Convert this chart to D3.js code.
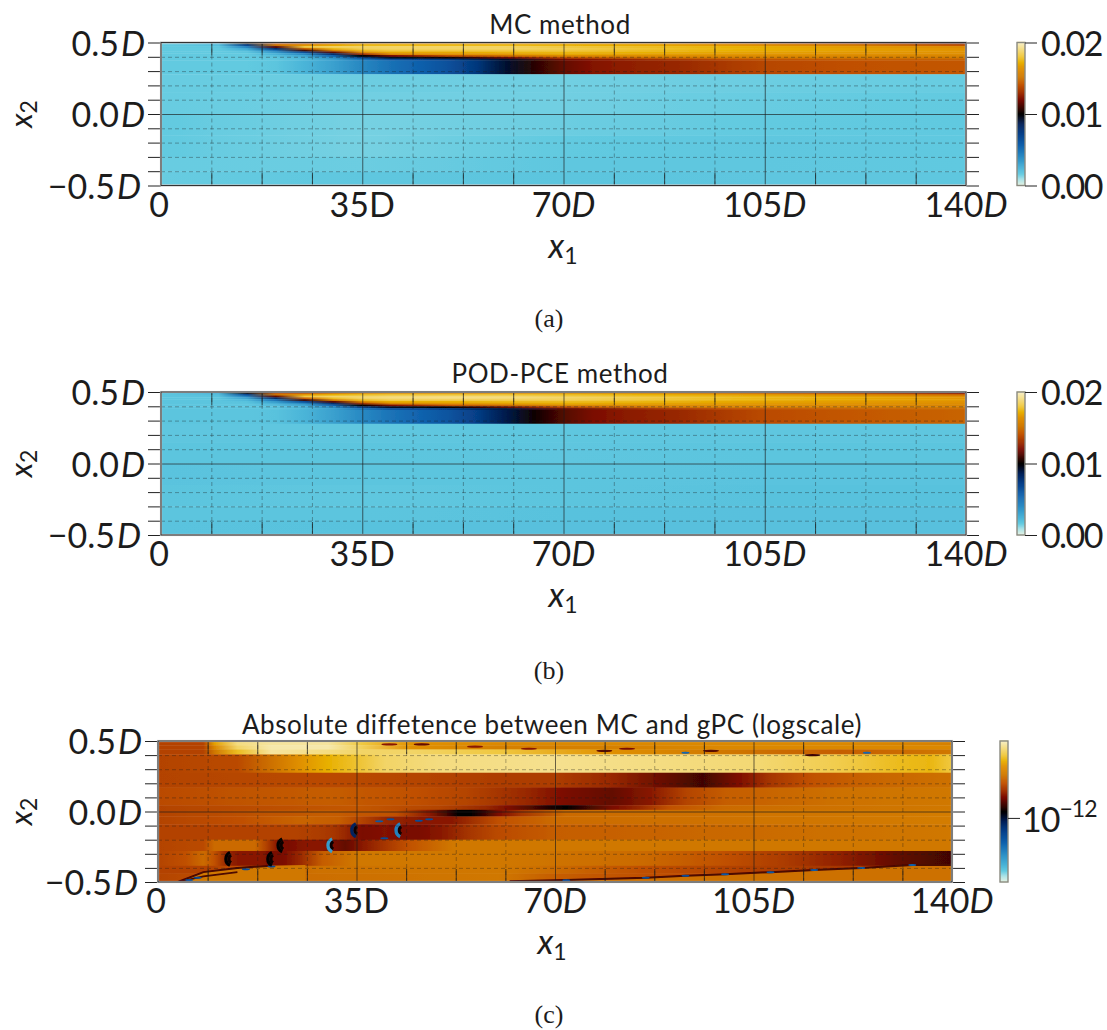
<!DOCTYPE html>
<html>
<head>
<meta charset="utf-8">
<script src="https://cdnjs.cloudflare.com/ajax/libs/d3/7.8.5/d3.min.js"></script>
<style>
  html, body { margin: 0; background: #fff; }
  svg { display: block; }
  text { font-family: Lato, "Noto Sans", sans-serif; fill: #1c1c1c; }
  text.cap { font-family: "Liberation Serif", serif; font-size: 26px; }
</style>
</head>
<body>
<svg id="chart" width="1107" height="1030"></svg>
<script>
/** --- DATA --- */

const xMajor = [0, 35, 70, 105, 140];
const xMinor = [8.75, 17.5, 26.25, 43.75, 52.5, 61.25, 78.75, 87.5, 96.25, 113.75, 122.5, 131.25];
const yMajor = [-0.5, 0, 0.5];
const yMinor = [-0.4, -0.3, -0.2, -0.1, 0.1, 0.2, 0.3, 0.4];
const titles = ['MC method', 'POD-PCE method', 'Absolute diffetence between MC and gPC (logscale)'];
const captions = ['(a)', '(b)', '(c)'];

// colormap, position along the colourbar -> colour
const cmapPos = [0, 0.04, 0.08, 0.12, 0.2, 0.28, 0.36, 0.43, 0.49, 0.5, 0.53, 0.6, 0.65, 0.7, 0.76, 0.82, 0.86, 0.9, 0.95, 1];
const cmapCol = ['#e6f2e2', '#b0e4e8', '#62cae0', '#4ab4d8', '#2a8cc4', '#0f60ac', '#06408a', '#001f58', '#000008', '#000000', '#2a0500', '#7a0a00', '#a03000', '#c05000', '#d07800', '#e09000', '#e8b000', '#f0c840', '#f4dc80', '#f8f0c8'];

// panels a + b: variance in units of 1e-3, top shear layer
const shearEdges = [0.5, 0.4875, 0.475, 0.4625, 0.45, 0.4375, 0.425, 0.4125, 0.4, 0.3875, 0.375];
const shearX = [0, 10, 15, 20, 25, 30, 35, 40, 50, 60, 70, 85, 100, 120, 140];
const shearMC = [
  [1.6, 2.5, 10.0, 14.0, 13.5, 14.5, 15.5, 16.0, 16.0, 16.0, 16.0, 15.5, 14.5, 13.0, 11.5],
  [1.6, 2.0, 7.0, 15.0, 16.5, 17.0, 17.5, 17.5, 17.5, 17.5, 17.3, 17.0, 16.5, 15.5, 14.0],
  [1.6, 1.7, 4.5, 11.5, 18.0, 18.5, 18.5, 18.6, 18.6, 18.5, 18.0, 17.6, 17.2, 16.6, 16.0],
  [1.6, 1.6, 3.0, 8.0, 14.5, 17.5, 18.4, 18.6, 18.6, 18.6, 18.3, 17.8, 17.3, 16.8, 16.4],
  [1.6, 1.6, 2.2, 5.0, 11.0, 15.5, 17.5, 18.0, 18.0, 18.0, 18.0, 17.6, 17.2, 16.8, 16.5],
  [1.6, 1.6, 1.8, 3.5, 6.5, 11.5, 16.0, 17.0, 17.0, 17.3, 17.4, 17.2, 16.9, 16.6, 16.4],
  [1.6, 1.6, 1.6, 2.5, 4.2, 8.0, 13.0, 15.8, 16.4, 16.6, 17.0, 16.8, 16.6, 16.4, 16.2],
  [1.6, 1.6, 1.6, 2.0, 3.0, 5.5, 10.0, 12.0, 14.0, 15.0, 16.0, 16.2, 16.2, 16.0, 15.8],
  [1.6, 1.6, 1.6, 1.8, 2.5, 4.0, 7.0, 9.3, 10.2, 12.0, 14.0, 15.0, 15.5, 15.4, 15.3],
  [1.6, 1.6, 1.6, 1.7, 2.2, 3.2, 5.0, 6.6, 7.6, 9.3, 12.0, 13.0, 14.0, 14.4, 14.6]
];
const shearPOD = [
  [1.8, 2.6, 10.0, 14.0, 13.8, 14.8, 15.6, 16.1, 16.2, 16.2, 16.1, 15.6, 14.8, 13.4, 12.0],
  [1.8, 2.1, 7.0, 15.0, 16.6, 17.2, 17.6, 17.8, 17.8, 17.8, 17.6, 17.2, 16.7, 15.8, 14.5],
  [1.8, 1.9, 4.5, 11.5, 18.0, 18.6, 18.6, 18.8, 18.9, 18.8, 18.3, 17.8, 17.4, 16.8, 16.2],
  [1.8, 1.8, 3.1, 8.0, 14.5, 17.6, 18.5, 18.8, 18.9, 18.8, 18.5, 18.0, 17.5, 17.0, 16.5],
  [1.8, 1.8, 2.3, 5.0, 11.0, 15.6, 17.6, 18.2, 18.2, 18.2, 18.2, 17.8, 17.4, 16.9, 16.6],
  [1.8, 1.8, 1.9, 3.5, 6.5, 11.5, 16.0, 17.1, 17.2, 17.5, 17.6, 17.4, 17.0, 16.7, 16.4],
  [1.8, 1.8, 1.8, 2.6, 4.2, 8.0, 13.0, 15.8, 16.5, 16.8, 17.1, 16.9, 16.7, 16.5, 16.2],
  [1.8, 1.8, 1.8, 2.1, 3.0, 5.5, 10.0, 12.0, 14.0, 14.8, 15.9, 16.2, 16.2, 16.0, 15.8],
  [1.8, 1.8, 1.8, 1.9, 2.5, 4.0, 6.9, 9.2, 10.1, 11.6, 13.6, 14.9, 15.4, 15.4, 15.3],
  [1.8, 1.8, 1.8, 1.8, 2.3, 3.2, 4.9, 6.4, 7.4, 9.0, 11.6, 13.0, 14.0, 14.5, 14.8]
];

// panels a + b: band just below the shear layer
const bandEdges = [0.375, 0.278];
const bandX = [0, 15, 20, 25, 30, 35, 40, 45, 50, 55, 60, 65, 70, 75, 80, 90, 100, 105, 120, 130, 140];
const bandMC = [1.6, 1.6, 1.8, 2.4, 3.2, 4.2, 5.0, 5.6, 6.4, 7.6, 9.2, 10.6, 11.6, 12.2, 12.5, 12.8, 13.4, 13.7, 14.0, 14.1, 14.2];
const bandPOD = [1.8, 1.8, 1.9, 2.4, 3.2, 4.1, 4.9, 5.5, 6.2, 7.3, 8.8, 10.2, 11.3, 12.0, 12.4, 12.8, 13.5, 13.8, 14.2, 14.4, 14.6];

// panels a + b: the nearly flat lower part
const coreEdges = [0.278, 0.15, 0, -0.15, -0.3, -0.4, -0.5];
const coreX = [0, 35, 70, 105, 140];
const coreMC = [
  [1.55, 1.5, 1.45, 1.5, 1.55],
  [1.55, 1.45, 1.45, 1.55, 1.6],
  [1.6, 1.4, 1.5, 1.6, 1.65],
  [1.6, 1.4, 1.6, 1.7, 1.65],
  [1.55, 1.5, 1.7, 1.7, 1.65],
  [1.55, 1.7, 1.8, 1.75, 1.7]
];
const corePOD = [
  [1.75, 1.75, 1.7, 1.75, 1.75],
  [1.8, 1.8, 1.75, 1.8, 1.8],
  [1.85, 1.8, 1.8, 1.85, 1.85],
  [1.8, 1.7, 1.8, 1.9, 1.9],
  [1.8, 1.8, 1.9, 1.95, 1.95],
  [1.85, 1.9, 1.95, 1.95, 1.95]
];

// panel c: log difference, read as position along its colourbar
const diffEdges = [0.5, 0.47, 0.44, 0.405, 0.275, 0.17, 0.045, 0.012, -0.035, -0.09, -0.2, -0.28, -0.385, -0.44, -0.5];
const diffX = [
  [0, 8, 10, 14, 20, 30, 36, 45, 60, 80, 100, 120, 140],
  [0, 8, 10, 14, 20, 30, 36, 45, 60, 80, 100, 120, 140],
  [0, 8, 10, 14, 20, 30, 36, 45, 60, 80, 100, 120, 140],
  [0, 14, 20, 25, 30, 35, 40, 50, 70, 90, 105, 120, 130, 136, 140],
  [0, 30, 50, 60, 70, 80, 90, 96, 102, 108, 115, 125, 140],
  [0, 30, 45, 55, 65, 72, 80, 87, 93, 100, 120, 140],
  [0, 35, 50, 58, 62, 66, 69, 72, 75, 80, 85, 90, 100, 140],
  [0, 30, 42, 48, 51, 53, 55, 57, 60, 64, 72, 140],
  [0, 15, 25, 32, 36, 40, 46, 52, 60, 70, 140],
  [0, 15, 24, 28, 31, 33, 36, 40, 43, 46, 50, 55, 60, 70, 140],
  [0, 8, 10, 17, 19, 21, 23, 26, 29, 31, 33, 36, 40, 44, 52, 140],
  [0, 5, 8, 10, 12, 14, 18, 20, 22, 25, 29, 35, 60, 85, 100, 110, 120, 130, 140],
  [0, 10, 15, 20, 28, 60, 70, 85, 100, 120, 140],
  [0, 10, 20, 60, 70, 85, 100, 140]
];
const diffV = [
  [0.68, 0.68, 0.84, 0.95, 0.97, 0.97, 0.9, 0.82, 0.8, 0.8, 0.8, 0.8, 0.78],
  [0.68, 0.68, 0.8, 0.93, 0.98, 0.98, 0.92, 0.82, 0.78, 0.78, 0.8, 0.8, 0.8],
  [0.68, 0.68, 0.76, 0.88, 0.97, 0.95, 0.93, 0.93, 0.9, 0.82, 0.76, 0.72, 0.76],
  [0.68, 0.69, 0.75, 0.82, 0.86, 0.89, 0.93, 0.95, 0.96, 0.95, 0.94, 0.91, 0.88, 0.87, 0.9],
  [0.68, 0.69, 0.68, 0.67, 0.67, 0.64, 0.58, 0.55, 0.6, 0.66, 0.7, 0.73, 0.75],
  [0.69, 0.72, 0.7, 0.68, 0.64, 0.6, 0.58, 0.62, 0.68, 0.72, 0.75, 0.76],
  [0.68, 0.71, 0.68, 0.64, 0.6, 0.56, 0.52, 0.5, 0.54, 0.6, 0.64, 0.7, 0.74, 0.76],
  [0.68, 0.72, 0.7, 0.62, 0.55, 0.5, 0.5, 0.53, 0.6, 0.66, 0.74, 0.77],
  [0.68, 0.7, 0.73, 0.72, 0.68, 0.64, 0.62, 0.62, 0.7, 0.74, 0.77],
  [0.68, 0.68, 0.68, 0.67, 0.66, 0.64, 0.6, 0.61, 0.6, 0.6, 0.62, 0.66, 0.69, 0.72, 0.76],
  [0.68, 0.69, 0.74, 0.74, 0.68, 0.62, 0.6, 0.62, 0.62, 0.6, 0.58, 0.62, 0.66, 0.7, 0.76, 0.76],
  [0.68, 0.7, 0.74, 0.7, 0.64, 0.62, 0.62, 0.6, 0.6, 0.64, 0.72, 0.76, 0.76, 0.74, 0.7, 0.67, 0.63, 0.58, 0.55],
  [0.68, 0.68, 0.7, 0.72, 0.75, 0.76, 0.74, 0.7, 0.68, 0.66, 0.7],
  [0.68, 0.7, 0.74, 0.76, 0.72, 0.7, 0.7, 0.72]
];

// panel c: crescent shaped zeros of the difference
const crescentX = [12.7, 20.1, 21.9, 30.7, 34.9, 42.7];
const crescentY = [-0.336, -0.336, -0.24, -0.24, -0.133, -0.133];
const crescentV = [0.5, 0.5, 0.5, 0.17, 0.42, 0.22];

// panel c: short dark streaks
const streakX = [40.8, 46.5, 55.9, 65.4, 78.7, 82.7, 97.5, 115.4];
const streakY = [0.476, 0.476, 0.46, 0.445, 0.43, 0.445, 0.43, 0.4];
const streakV = [0.62, 0.58, 0.62, 0.62, 0.57, 0.6, 0.57, 0.55];

// panel c: small blue flecks
const fleckX = [93, 125, 39, 41, 46, 47.8, 39.9, 5.5, 7, 15.5, 20, 72, 86, 93, 100, 108, 115.7, 124, 133];
const fleckY = [0.417, 0.417, -0.07, -0.055, -0.065, -0.055, -0.19, -0.485, -0.47, -0.41, -0.39, -0.487, -0.47, -0.455, -0.445, -0.43, -0.415, -0.4, -0.38];
const fleckV = [0.27, 0.27, 0.3, 0.33, 0.33, 0.33, 0.33, 0.33, 0.33, 0.33, 0.33, 0.33, 0.33, 0.33, 0.3, 0.3, 0.3, 0.28, 0.28];

// panel c: dark lines along the lower wall
const wallAX = [3.5, 8, 14, 20, 26];
const wallAY = [-0.5, -0.43, -0.4, -0.385, -0.38];
const wallBX = [3.5, 8, 14];
const wallBY = [-0.5, -0.46, -0.43];
const wallCX = [62, 72, 86, 93, 100, 108, 115.7, 124, 133, 140];
const wallCY = [-0.495, -0.485, -0.47, -0.455, -0.445, -0.43, -0.415, -0.4, -0.38, -0.38];

/** --- DIMENSIONS + MISC --- */

const panels = [
  { left: 161, right: 966, top: 42.5, bottom: 185.5, barX: 1017, barW: 8, tickLen: 13, titleX: 560, titleY: 34, capY: 327, capX: 549, labelX: 563 },
  { left: 161, right: 966, top: 392, bottom: 535, barX: 1017, barW: 8, tickLen: 13, titleX: 560, titleY: 383, capY: 679, capX: 549, labelX: 563 },
  { left: 158, right: 952, top: 741, bottom: 882, barX: 1000, barW: 8, tickLen: 13, titleX: 552, titleY: 734, capY: 1023, capX: 549, labelX: 552 }
];

const tickFont = 34;
const subFont = 23;
const svg = d3.select('#chart');
const defs = svg.append('defs');

defs.append('filter').attr('id', 'soft')
  .attr('x', '-2%').attr('y', '-5%').attr('width', '104%').attr('height', '110%')
  .append('feGaussianBlur').attr('stdDeviation', 0.55).attr('edgeMode', 'duplicate');

defs.append('filter').attr('id', 'crisp')
  .attr('x', '-20%').attr('y', '-20%').attr('width', '140%').attr('height', '140%')
  .append('feGaussianBlur').attr('stdDeviation', 0.6);

const cmap = d3.scaleLinear().domain(cmapPos).range(cmapCol).clamp(true);

/** --- HELPERS --- */

function rowsFrom(edges, xs, values, unit) {
  return values.map((v, i) => ({
    top: edges[i],
    bottom: edges[i + 1],
    xs: Array.isArray(xs[0]) ? xs[i] : xs,
    v: v.map(d => d * unit)
  }));
}

function drawField(g, rows, x, y, id) {
  const grads = defs.selectAll('linearGradient.' + id)
    .data(rows)
    .enter()
    .append('linearGradient')
    .attr('class', id)
    .attr('id', (d, i) => id + i);

  grads.selectAll('stop')
    .data(d => d.xs.map((xv, j) => ({ xv: xv, v: d.v[j] })))
    .enter()
    .append('stop')
    .attr('offset', d => (x(d.xv) - x.range()[0]) / (x.range()[1] - x.range()[0]))
    .attr('stop-color', d => cmap(d.v));

  g.selectAll('rect')
    .data(rows)
    .enter()
    .append('rect')
    .attr('x', x.range()[0])
    .attr('width', x.range()[1] - x.range()[0])
    .attr('y', d => y(d.top))
    .attr('height', d => y(d.bottom) - y(d.top) + 0.4)
    .attr('fill', (d, i) => 'url(#' + id + i + ')');
}

function xLabel(sel, v) {
  // 35D is set upright in the original, the rest with an italic D
  sel.append('tspan').text(v);
  if (v !== 0) {
    sel.append('tspan').attr('font-style', v === 35 ? 'normal' : 'italic').text('D');
  }
}

function drawAxes(g, p, x, y) {
  const h = p.bottom - p.top;
  const w = p.right - p.left;

  // dashed minor grid
  g.append('g').attr('class', 'grid')
    .attr('transform', `translate(0,${p.bottom})`)
    .call(d3.axisBottom(x).tickValues(xMinor).tickSize(-h).tickFormat(''))
    .call(s => s.select('.domain').remove())
    .selectAll('line')
    .attr('stroke', '#1a1a1a').attr('stroke-opacity', 0.35).attr('stroke-dasharray', '4,3');

  g.append('g').attr('class', 'grid')
    .attr('transform', `translate(${p.left},0)`)
    .call(d3.axisLeft(y).tickValues(yMinor).tickSize(-w).tickFormat(''))
    .call(s => s.select('.domain').remove())
    .selectAll('line')
    .attr('stroke', '#1a1a1a').attr('stroke-opacity', 0.35).attr('stroke-dasharray', '4,3');

  // solid major grid
  g.append('g')
    .attr('transform', `translate(0,${p.bottom})`)
    .call(d3.axisBottom(x).tickValues(xMajor.slice(1, -1)).tickSize(-h).tickFormat(''))
    .call(s => s.select('.domain').remove())
    .selectAll('line').attr('stroke', '#1a1a1a').attr('stroke-opacity', 0.65);

  g.append('g')
    .attr('transform', `translate(${p.left},0)`)
    .call(d3.axisLeft(y).tickValues([0]).tickSize(-w).tickFormat(''))
    .call(s => s.select('.domain').remove())
    .selectAll('line').attr('stroke', '#1a1a1a').attr('stroke-opacity', 0.65);

  // short solid marks at both edges for the minor x ticks
  g.append('g')
    .attr('transform', `translate(0,${p.bottom})`)
    .call(d3.axisBottom(x).tickValues(xMinor).tickSize(-p.tickLen).tickFormat(''))
    .call(s => s.select('.domain').remove())
    .selectAll('line').attr('stroke', '#1a1a1a').attr('stroke-opacity', 0.75);

  g.append('g')
    .attr('transform', `translate(0,${p.top})`)
    .call(d3.axisTop(x).tickValues(xMinor).tickSize(-p.tickLen).tickFormat(''))
    .call(s => s.select('.domain').remove())
    .selectAll('line').attr('stroke', '#1a1a1a').attr('stroke-opacity', 0.75);

  // outer ticks on y, both sides
  const yAll = yMajor.concat(yMinor);
  g.append('g')
    .attr('transform', `translate(${p.left},0)`)
    .call(d3.axisLeft(y).tickValues(yAll).tickSize(p.tickLen).tickFormat(''))
    .call(s => s.select('.domain').remove())
    .selectAll('line').attr('stroke', '#222');

  g.append('g')
    .attr('transform', `translate(${p.right},0)`)
    .call(d3.axisRight(y).tickValues(yAll).tickSize(p.tickLen).tickFormat(''))
    .call(s => s.select('.domain').remove())
    .selectAll('line').attr('stroke', '#222');

  // frame
  g.append('rect')
    .attr('x', p.left).attr('y', p.top).attr('width', w).attr('height', h)
    .attr('fill', 'none').attr('stroke', '#c8c8c8').attr('stroke-width', 2.2);
  g.append('rect')
    .attr('x', p.left).attr('y', p.top).attr('width', w).attr('height', h)
    .attr('fill', 'none').attr('stroke', '#333').attr('stroke-width', 1);

  // tick labels
  g.selectAll('text.ylab')
    .data(yMajor)
    .enter()
    .append('text')
    .attr('class', 'ylab')
    .attr('x', d => p.left - (d < 0 ? 20 : 16))
    .attr('y', d => y(d) + 13)
    .attr('text-anchor', 'end')
    .attr('font-size', tickFont)
    .each(function(d) {
      const s = d3.select(this);
      s.append('tspan').text(d3.format('.1f')(d).replace('-', '\u2212'));
      s.append('tspan').attr('font-style', 'italic').attr('dx', 2).text('D');
    });

  g.selectAll('text.xlab')
    .data(xMajor)
    .enter()
    .append('text')
    .attr('class', 'xlab')
    .attr('x', d => x(d) - (d === 0 ? 2 : 0))
    .attr('y', p.bottom + 31)
    .attr('text-anchor', 'middle')
    .attr('font-size', tickFont)
    .each(function(d) { xLabel(d3.select(this), d); });

  // axis titles
  const xt = g.append('text')
    .attr('x', p.labelX)
    .attr('y', p.bottom + 72)
    .attr('text-anchor', 'middle')
    .attr('font-size', tickFont);
  xt.append('tspan').attr('font-style', 'italic').text('x');
  xt.append('tspan').attr('font-size', subFont).attr('dy', 6).text('1');

  // kept a little smaller than the ticks so the glyph box stays on the page
  const yt = g.append('text')
    .attr('transform', `translate(32,${(p.top + p.bottom) / 2}) rotate(-90)`)
    .attr('text-anchor', 'middle')
    .attr('font-size', 31);
  yt.append('tspan').attr('font-style', 'italic').text('x');
  yt.append('tspan').attr('font-size', subFont).attr('dy', 5).text('2');
}

function drawBar(g, p, barScale, tickVals) {
  const steps = d3.range(0, 1.0001, 1 / 140);
  g.selectAll('rect.step')
    .data(steps)
    .enter()
    .append('rect')
    .attr('class', 'step')
    .attr('x', p.barX)
    .attr('width', p.barW)
    .attr('y', d => p.bottom - d * (p.bottom - p.top) - 1)
    .attr('height', 1.6)
    .attr('fill', d => cmap(d));

  g.append('rect')
    .attr('x', p.barX).attr('y', p.top).attr('width', p.barW).attr('height', p.bottom - p.top)
    .attr('fill', 'none').attr('stroke', '#8a8a80').attr('stroke-width', 1.4);

  g.append('g')
    .attr('transform', `translate(${p.barX + p.barW},0)`)
    .call(d3.axisRight(barScale).tickValues(tickVals).tickSize(12).tickFormat(''))
    .call(s => s.select('.domain').remove())
    .selectAll('line').attr('stroke', '#222');
}

/** --- PANELS --- */

function simplePanel(i, shear, band, core) {
  const p = panels[i];
  const x = d3.scaleLinear().domain([0, 140]).range([p.left, p.right]);
  const y = d3.scaleLinear().domain([-0.5, 0.5]).range([p.bottom, p.top]);
  const g = svg.append('g');

  const rows = rowsFrom(shearEdges, shearX, shear, 0.05)
    .concat(rowsFrom(bandEdges, bandX, [band], 0.05))
    .concat(rowsFrom(coreEdges, coreX, core, 0.05));

  const field = g.append('g').attr('filter', 'url(#soft)');
  drawField(field, rows, x, y, 'field' + i);
  drawAxes(g, p, x, y);

  const barScale = d3.scaleLinear().domain([0, 0.02]).range([p.bottom, p.top]);
  const bar = svg.append('g');
  drawBar(bar, p, barScale, [0, 0.01, 0.02]);

  bar.selectAll('text.barlab')
    .data([0, 0.01, 0.02])
    .enter()
    .append('text')
    .attr('class', 'barlab')
    .attr('x', p.barX + 24)
    .attr('y', d => barScale(d) + 13)
    .attr('font-size', tickFont)
    .attr('letter-spacing', -1.6)
    .text(d => d3.format('.2f')(d));
}

function diffPanel() {
  const p = panels[2];
  const x = d3.scaleLinear().domain([0, 140]).range([p.left, p.right]);
  const y = d3.scaleLinear().domain([-0.5, 0.5]).range([p.bottom, p.top]);
  const g = svg.append('g');

  defs.append('clipPath').attr('id', 'clipc')
    .append('rect')
    .attr('x', p.left).attr('y', p.top)
    .attr('width', p.right - p.left).attr('height', p.bottom - p.top);

  const field = g.append('g').attr('filter', 'url(#soft)');
  drawField(field, rowsFrom(diffEdges, diffX, diffV, 1), x, y, 'diff');

  const clip = g.append('g').attr('clip-path', 'url(#clipc)');
  const over = clip.append('g').attr('filter', 'url(#crisp)');

  // brighter fluid below the two wall streaks
  const area = d3.area().x(d => x(d[0])).y0(y(-0.5)).y1(d => y(d[1]));
  over.append('path')
    .datum(d3.zip(wallAX, wallAY))
    .attr('d', area)
    .attr('fill', cmap(0.76));
  over.append('path')
    .datum(d3.zip(wallCX, wallCY))
    .attr('d', area)
    .attr('fill', cmap(0.75));

  const line = d3.line().x(d => x(d[0])).y(d => y(d[1]));
  [[wallAX.slice(0, 4), wallAY.slice(0, 4), 2], [wallBX, wallBY, 1.6], [wallCX, wallCY, 2]].forEach(w => {
    over.append('path')
      .datum(d3.zip(w[0], w[1]))
      .attr('d', line)
      .attr('fill', 'none')
      .attr('stroke', cmap(0.56))
      .attr('stroke-width', w[2]);
  });

  over.selectAll('ellipse.streak')
    .data(d3.zip(streakX, streakY, streakV))
    .enter()
    .append('ellipse')
    .attr('class', 'streak')
    .attr('cx', d => x(d[0]))
    .attr('cy', d => y(d[1]))
    .attr('rx', 8)
    .attr('ry', 1.1)
    .attr('fill', d => cmap(d[2]));

  over.selectAll('ellipse.fleck')
    .data(d3.zip(fleckX, fleckY, fleckV))
    .enter()
    .append('ellipse')
    .attr('class', 'fleck')
    .attr('cx', d => x(d[0]))
    .attr('cy', d => y(d[1]))
    .attr('rx', 4)
    .attr('ry', 1)
    .attr('fill', d => cmap(d[2]));

  // each zero is a dark inner crescent with a coloured rim on its upstream side
  const arcRim = d3.arc()
    .innerRadius(5.5)
    .outerRadius(8.8)
    .startAngle(-Math.PI * 0.86)
    .endAngle(-Math.PI * 0.14);
  const arcInner = d3.arc()
    .innerRadius(2.6)
    .outerRadius(5.6)
    .startAngle(-Math.PI * 0.85)
    .endAngle(-Math.PI * 0.15);

  const cres = clip.selectAll('g.cres')
    .data(d3.zip(crescentX, crescentY, crescentV))
    .enter()
    .append('g')
    .attr('class', 'cres')
    .attr('filter', 'url(#crisp)')
    .attr('transform', d => `translate(${x(d[0]) + 3},${y(d[1])})`);

  cres.append('path')
    .attr('d', arcInner)
    .attr('fill', '#0a0200');
  cres.append('path')
    .attr('d', arcRim)
    .attr('fill', d => cmap(d[2]));

  drawAxes(g, p, x, y);

  // colourbar is logarithmic, 10^-12 sits just under the black of the map
  const barScale = d3.scaleLog().domain([1e-13, Math.pow(10, -10.8)]).range([p.bottom, p.top]);
  const bar = svg.append('g');
  drawBar(bar, p, barScale, [1e-12]);

  const lab = bar.append('text')
    .attr('x', p.barX + 22)
    .attr('y', barScale(1e-12) + 14)
    .attr('font-size', tickFont)
    .attr('letter-spacing', -1);
  lab.append('tspan').text('10');
  lab.append('tspan').attr('font-size', subFont).attr('dy', -15).text('\u221212');
}

simplePanel(0, shearMC, bandMC, coreMC);
simplePanel(1, shearPOD, bandPOD, corePOD);
diffPanel();

/** --- TITLES + CAPTIONS --- */

panels.forEach((p, i) => {
  svg.append('text')
    .attr('x', p.titleX)
    .attr('y', p.titleY)
    .attr('text-anchor', 'middle')
    .attr('font-size', 26)
    .attr('letter-spacing', 0.6)
    .text(titles[i]);

  svg.append('text')
    .attr('class', 'cap')
    .attr('x', p.capX)
    .attr('y', p.capY)
    .attr('text-anchor', 'middle')
    .text(captions[i]);
});
</script>
</body>
</html>
